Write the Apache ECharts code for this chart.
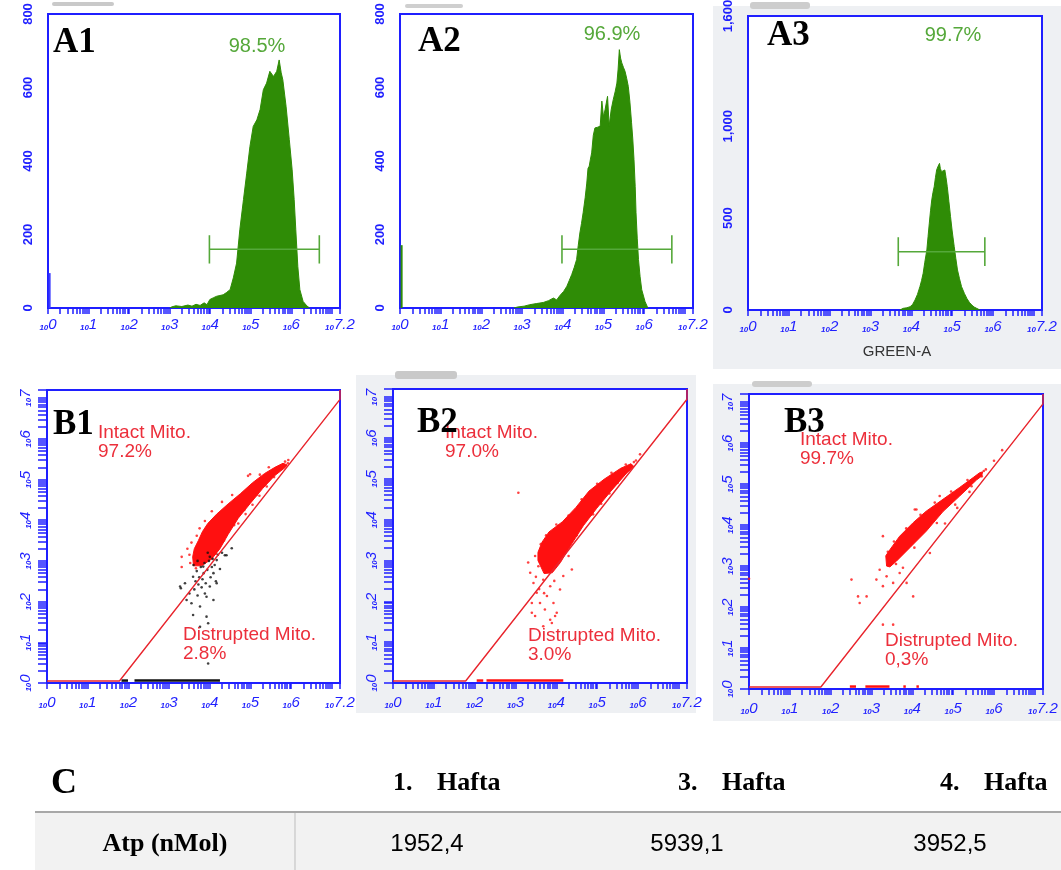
<!DOCTYPE html>
<html>
<head>
<meta charset="utf-8">
<script src="https://cdn.jsdelivr.net/npm/echarts@6/dist/echarts.min.js"></script>
<style>
  body { margin: 0; background: #fff; }
  #chart { width: 1061px; height: 870px; }
</style>
</head>
<body>
<div id="chart"></div>
<script>
// ---- histogram data (x = log10 intensity, y = count) ----
var a1Hist = [[3.0,0],[3.05,3],[3.15,6],[3.3,4],[3.45,8],[3.55,5],[3.65,10],[3.75,7],[3.85,14],[3.92,9],
  [3.99,23],[4.08,28],[4.16,32],[4.24,34],[4.32,36],[4.40,42],[4.49,50],[4.57,82],[4.65,122],[4.73,213],
  [4.82,295],[4.90,367],[4.98,440],[5.06,494],[5.15,512],[5.23,540],[5.31,594],[5.39,612],[5.47,644],
  [5.56,630],[5.64,644],[5.70,675],[5.75,640],[5.79,621],[5.87,549],[5.95,458],[6.02,376],[6.07,295],
  [6.11,213],[6.16,113],[6.21,50],[6.29,18],[6.38,6],[6.45,0]];
var a2Hist = [[2.8,0],[2.9,3],[3.05,5],[3.19,9],[3.35,12],[3.52,15],[3.65,20],[3.77,27],[3.85,22],[3.93,34],
  [4.02,45],[4.10,59],[4.16,75],[4.22,91],[4.28,110],[4.34,132],[4.38,170],[4.42,204],[4.46,230],[4.50,259],
  [4.55,300],[4.59,340],[4.62,380],[4.65,386],[4.68,405],[4.71,422],[4.75,470],[4.79,490],[4.86,492],
  [4.92,495],[4.96,563],[5.00,520],[5.04,540],[5.10,576],[5.14,495],[5.19,540],[5.24,567],[5.29,590],
  [5.33,612],[5.36,650],[5.39,703],[5.42,680],[5.45,667],[5.49,655],[5.53,644],[5.57,625],[5.61,603],
  [5.65,560],[5.69,504],[5.72,460],[5.75,404],[5.78,330],[5.80,259],[5.83,190],[5.86,132],[5.90,85],
  [5.94,50],[6.02,18],[6.09,0]];
var a3Hist = [[3.72,0],[3.80,9],[3.89,12],[3.97,18],[4.03,30],[4.09,54],[4.15,85],[4.21,127],[4.25,160],
  [4.29,200],[4.33,260],[4.38,327],[4.41,400],[4.44,472],[4.47,540],[4.50,599],[4.53,640],[4.56,671],
  [4.59,720],[4.62,762],[4.65,780],[4.69,798],[4.71,770],[4.74,753],[4.78,745],[4.82,762],[4.85,720],
  [4.88,671],[4.92,590],[4.96,508],[5.00,430],[5.05,345],[5.09,280],[5.13,218],[5.18,170],[5.23,127],
  [5.30,90],[5.36,63],[5.42,42],[5.48,27],[5.54,16],[5.60,9],[5.68,0]];
var firstBin = [95, 171, 0];
// gate markers: [from, to, level, capLow, capHigh]
var aGates = [[3.98,6.69,160,121,198],[3.98,6.68,160,121,198],[3.68,5.80,317,239,396]];
var aYMax = [800, 800, 1600];
var aYLabels = [[0,200,400,600,800],[0,200,400,600,800],[0,500,1000,1600]];
var aPercents = ['98.5%', '96.9%', '99.7%'];

// ---- dot plot data (x, y = log10 intensity) ----
var b1Band = [[3.60,2.88],[3.58,3.10],[3.62,3.30],[3.72,3.50],[3.82,3.72],[3.95,3.92],[4.17,4.15],[4.45,4.40],
  [4.75,4.65],[5.05,4.92],[5.35,5.15],[5.60,5.30],[5.80,5.40],[5.90,5.36],[5.86,5.30],[5.60,5.10],[5.30,4.78],
  [5.00,4.42],[4.70,4.05],[4.45,3.65],[4.25,3.30],[4.05,3.05],[3.80,2.88]];
var b2Band = [[3.55,3.0],[3.55,3.2],[3.65,3.45],[3.82,3.70],[4.15,3.95],[4.48,4.30],[4.80,4.70],[5.17,4.99],
  [5.58,5.26],[5.83,5.37],[5.90,5.30],[5.73,5.15],[5.32,4.68],[4.99,4.28],[4.66,3.85],[4.34,3.35],[4.10,2.95],
  [3.90,2.70],[3.70,2.68]];
var b3Band = [[3.37,3.0],[3.35,3.25],[3.45,3.40],[3.69,3.73],[4.02,4.06],[4.34,4.34],[4.75,4.63],[5.16,4.92],
  [5.49,5.16],[5.65,5.28],[5.72,5.30],[5.70,5.20],[5.57,5.10],[5.16,4.71],[4.75,4.33],[4.34,3.85],[3.94,3.45],
  [3.61,3.12],[3.45,2.98]];
var b1Red = [[3.31,3.10],[3.31,2.85],[3.45,3.30],[3.50,3.15],[3.55,3.45],[3.68,3.62],[3.75,3.80],[3.88,3.98],
  [4.05,4.22],[4.30,4.45],[4.55,4.62],[4.94,5.09],[4.99,5.13],[5.23,5.12],[5.45,5.30],[5.85,5.44],[5.92,5.40],
  [3.52,2.95],[3.66,2.82],[4.15,3.18],[4.35,3.50],[4.60,3.88],[4.85,4.25],[5.15,4.62],[5.45,4.98],
  [4.70,3.92],[4.88,4.15],[5.05,4.38],[5.22,4.60],[5.40,4.83],[5.58,5.06],[5.75,5.28],[5.93,5.48]];
var b1Black = [[3.27,2.37],[3.29,2.33],[3.39,2.45],[3.43,2.04],[3.5,2.2],[3.55,1.96],[3.59,1.67],[3.59,2.61],
  [3.62,2.3],[3.65,2.5],[3.68,2.75],[3.7,2.15],[3.72,2.42],[3.74,2.6],[3.76,1.88],[3.76,1.38],[3.78,2.85],
  [3.8,2.35],[3.82,2.55],[3.84,2.86],[3.85,2.7],[3.87,2.95],[3.88,2.2],[3.9,2.45],[3.92,2.12],[3.92,1.63],
  [3.94,2.78],[3.96,1.47],[3.96,0.48],[3.98,3.0],[4.0,3.1],[4.0,2.37],[4.02,2.6],[4.05,2.85],[4.07,3.05],
  [4.09,2.70],[4.09,2.04],[4.12,2.9],[4.15,2.5],[4.17,3.02],[4.17,2.45],[4.2,3.15],[4.25,2.8],[4.3,3.2],
  [4.37,3.14],[4.41,3.14],[4.54,3.31],[3.6,2.9],[3.7,3.0],[3.95,3.2]];
var b2Red = [[3.36,2.70],[3.44,2.45],[3.52,2.21],[3.40,1.72],[3.60,1.96],[3.77,2.13],[3.93,1.96],[4.01,1.72],
  [4.09,2.29],[3.68,1.39],[3.85,1.55],[4.17,2.62],[3.68,2.53],[3.85,2.37],[3.56,2.86],[3.48,3.11],[3.80,2.78],
  [4.38,2.78],[3.97,1.64],[3.72,1.80],[3.89,1.47],[3.48,1.64],[3.40,1.96],[3.31,2.95],[3.07,4.66],[4.30,3.11],
  [3.58,2.30],[3.95,2.50],[3.70,2.20],[3.50,2.60],[3.62,3.40],[3.75,3.62],[4.00,3.88],[4.30,4.10],[4.62,4.50],
  [5.00,4.88],[5.35,5.15],[5.70,5.35],[5.95,5.45],[4.50,3.62],[4.85,4.12],
  [4.9,4.13],[5.1,4.39],[5.3,4.64],[5.5,4.90],[5.7,5.16],[5.9,5.41],[6.05,5.60]];
var b3Red = [[0.0,2.69],[2.51,2.67],[2.67,2.26],[2.71,2.10],[2.88,2.26],[3.12,2.67],[3.28,3.73],[3.28,2.51],
  [3.28,1.57],[3.53,1.57],[3.20,2.91],[3.37,2.75],[3.53,2.59],[3.69,2.83],[3.86,2.59],[3.77,2.96],[4.02,2.26],
  [4.43,3.32],[4.06,4.38],[4.10,4.38],[4.67,4.71],[3.40,3.35],[3.55,3.60],[3.85,3.92],[4.20,4.25],[4.55,4.55],
  [4.95,4.82],[5.35,5.10],[5.75,5.32],[5.80,5.36],[3.60,3.05],[4.05,3.45],[4.60,4.05],[5.05,4.50],[5.45,4.95],
  [4.8,4.04],[5.1,4.42],[5.4,4.81],[5.7,5.19],[6.0,5.57],[6.2,5.83]];
// events piled on the low edge: [from, to]
var b1Floor = [[1.83,1.99],[2.15,4.25]];
var b2Floor = [[2.05,2.21],[2.29,4.17]];
var b3Floor = [[2.47,2.62],[2.85,3.44],[3.78,3.84],[4.10,4.16]];
// diagonal gate outlines
var b1Gate = [[0,0.05],[1.78,0.05],[7.2,6.97],[7.2,7.2]];
var b2Gate = [[0,0.05],[1.78,0.05],[7.2,6.95],[7.2,7.2]];
var b3Gate = [[0,0.05],[1.76,0.05],[7.2,6.96],[7.2,7.2]];
var intactPct = ['97.2%', '97.0%', '99.7%'];
var disruptedPct = ['2.8%', '3.0%', '0,3%'];

var panelNames = ['A1', 'A2', 'A3', 'B1', 'B2', 'B3'];
var logLabelValues = [0, 1, 2, 3, 4, 5, 6, 7.2];
var logYLabelValues = [0, 1, 2, 3, 4, 5, 6, 7];

// ---- table C ----
var weeks = ['1. Hafta', '3. Hafta', '4. Hafta'];
var atpLabel = 'Atp (nMol)';
var atpValues = ['1952,4', '5939,1', '3952,5'];

var BLUE = '#1f1fff';
var HIST = '#2f8c06';
var GATE_GREEN = '#55a83a';
var RED = '#ff1010';
var TXT_RED = '#ec2f3b';
var SANS = 'Liberation Sans, Arial, sans-serif';
var SERIF = 'Liberation Serif, Times New Roman, serif';

var logTicks = [];
for (var d = 0; d < 8; d++) {
  for (var k = 1; k < 10; k++) {
    var t = d + Math.log10(k);
    if (t <= 7.2) logTicks.push(t);
  }
}
logTicks.push(7.2);

var expRich = {
  b: { fontFamily: SANS, fontSize: 8, fontWeight: 'bold', fontStyle: 'italic', color: BLUE, verticalAlign: 'bottom' },
  e: { fontFamily: SANS, fontSize: 15, fontStyle: 'italic', color: BLUE }
};
function expFmt(v) {
  var s = Math.abs(v - 7.2) < 1e-6 ? '7.2' : String(Math.round(v));
  return '{b|10}{e|' + s + '}';
}

var grids = [
  { left: 48, top: 14, width: 292, height: 294 },
  { left: 400, top: 14, width: 293, height: 294 },
  { left: 748, top: 16, width: 294, height: 294 },
  { left: 47, top: 390, width: 293, height: 293 },
  { left: 393, top: 389, width: 294, height: 294 },
  { left: 749, top: 394, width: 294, height: 295 }
].map(function (g) {
  return Object.assign({ show: true, backgroundColor: '#fff', borderColor: BLUE, borderWidth: 2, outerBoundsMode: 'none' }, g);
});

var xAxes = [], yAxes = [];
for (var i = 0; i < 6; i++) {
  var isB = i >= 3;
  xAxes.push({
    type: 'value', gridIndex: i, min: 0, max: 7.2,
    axisLine: { show: true, lineStyle: { color: BLUE, width: 2 } },
    axisTick: { show: true, customValues: logTicks, length: 6, lineStyle: { color: BLUE, width: 1.5 } },
    axisLabel: { customValues: logLabelValues, formatter: expFmt, rich: expRich, margin: isB ? 12 : 9 },
    splitLine: { show: false }
  });
  if (!isB) {
    yAxes.push({
      type: 'value', gridIndex: i, min: 0, max: aYMax[i],
      axisLine: { show: true, lineStyle: { color: BLUE, width: 2 } },
      axisTick: { show: false },
      axisLabel: {
        customValues: aYLabels[i], rotate: 90, color: BLUE, fontWeight: 'bold',
        fontFamily: SANS, fontSize: 13, margin: 13,
        formatter: function (v) { return v >= 1000 ? String(v).replace(/(\d)(\d{3})$/, '$1,$2') : String(v); }
      },
      splitLine: { show: false }
    });
  } else {
    yAxes.push({
      type: 'value', gridIndex: i, min: 0, max: 7.2,
      axisLine: { show: true, lineStyle: { color: BLUE, width: 2 } },
      axisTick: { show: true, customValues: logTicks, length: 9, lineStyle: { color: BLUE, width: 1.5 } },
      axisLabel: { customValues: logYLabelValues, rotate: 90, formatter: expFmt, rich: expRich, margin: 14 },
      splitLine: { show: false }
    });
  }
}

function renderGate(params, api) {
  var x1 = api.value(0), x2 = api.value(1), y = api.value(2), lo = api.value(3), hi = api.value(4);
  var a = api.coord([x1, y]), b = api.coord([x2, y]);
  var a1 = api.coord([x1, lo]), a2 = api.coord([x1, hi]);
  var b1 = api.coord([x2, lo]), b2 = api.coord([x2, hi]);
  var st = { stroke: GATE_GREEN, lineWidth: 1.6 };
  return { type: 'group', children: [
    { type: 'line', shape: { x1: a[0], y1: a[1], x2: b[0], y2: b[1] }, style: st },
    { type: 'line', shape: { x1: a1[0], y1: a1[1], x2: a2[0], y2: a2[1] }, style: st },
    { type: 'line', shape: { x1: b1[0], y1: b1[1], x2: b2[0], y2: b2[1] }, style: st }
  ] };
}
function bandRenderer(points) {
  return function (params, api) {
    if (params.dataIndex !== 0) return null;
    var pts = points.map(function (p) { return api.coord(p); });
    return { type: 'polygon', shape: { points: pts }, style: { fill: RED, stroke: RED, lineWidth: 1 } };
  };
}
var FLOOR_Y = 0.06;
function floorRenderer(color) {
  return function (params, api) {
    var a = api.coord([api.value(0), FLOOR_Y]), b = api.coord([api.value(1), FLOOR_Y]);
    return { type: 'line', shape: { x1: a[0], y1: a[1], x2: b[0], y2: b[1] }, style: { stroke: color, lineWidth: 2.5 } };
  };
}

var series = [];
var hists = [a1Hist, a2Hist, a3Hist];
for (var h = 0; h < 3; h++) {
  series.push({
    type: 'line', xAxisIndex: h, yAxisIndex: h, data: hists[h], symbol: 'none',
    lineStyle: { color: HIST, width: 1 }, areaStyle: { color: HIST, opacity: 1 }, z: 3, animation: false
  });
  if (firstBin[h] > 0) {
    series.push({
      type: 'line', xAxisIndex: h, yAxisIndex: h, data: [[0.04, 0], [0.04, firstBin[h]]], symbol: 'none',
      lineStyle: { color: h === 0 ? '#3b3bff' : HIST, width: 2 }, animation: false
    });
  }
  series.push({
    type: 'custom', xAxisIndex: h, yAxisIndex: h, data: [aGates[h]], renderItem: renderGate,
    encode: { x: [0, 1], y: [2, 3, 4] }, z: 4, animation: false
  });
}
var bands = [b1Band, b2Band, b3Band];
var reds = [b1Red, b2Red, b3Red];
var floors = [b1Floor, b2Floor, b3Floor];
var gates = [b1Gate, b2Gate, b3Gate];
for (var j = 0; j < 3; j++) {
  var gi = j + 3;
  series.push({
    type: 'custom', xAxisIndex: gi, yAxisIndex: gi, data: bands[j], renderItem: bandRenderer(bands[j]),
    encode: { x: 0, y: 1 }, z: 3, animation: false
  });
  series.push({
    type: 'scatter', xAxisIndex: gi, yAxisIndex: gi, data: reds[j], symbolSize: 2.6,
    itemStyle: { color: RED }, z: 4, animation: false
  });
  if (j === 0) {
    series.push({
      type: 'scatter', xAxisIndex: gi, yAxisIndex: gi, data: b1Black, symbolSize: 2.6,
      itemStyle: { color: '#111' }, z: 5, animation: false
    });
  }
  series.push({
    type: 'custom', xAxisIndex: gi, yAxisIndex: gi, data: floors[j],
    renderItem: floorRenderer(j === 0 ? '#111' : RED), encode: { x: [0, 1] }, z: 5, animation: false
  });
  series.push({
    type: 'line', xAxisIndex: gi, yAxisIndex: gi, data: gates[j], symbol: 'none',
    lineStyle: { color: '#e8242c', width: 1.4 }, z: 6, animation: false
  });
}

// ---- free text and table, placed in pixels ----
var graphic = [];
function txt(x, y, text, font, fill, align, z) {
  graphic.push({ type: 'text', x: x, y: y, z: z || 100,
    style: { text: text, font: font, fill: fill, textAlign: align || 'left', textVerticalAlign: 'middle' } });
}
function rect(x, y, w, h, fill, z, r) {
  graphic.push({ type: 'rect', z: z, shape: { x: x, y: y, width: w, height: h, r: r || 0 }, style: { fill: fill } });
}
// light grey screenshot frames
rect(713, 6, 348, 363, '#eef0f3', -100);
rect(356, 375, 340, 338, '#eef0f3', -100);
rect(713, 384, 348, 337, '#eef0f3', -100);
// little tabs
rect(52, 2, 62, 4, '#c9c9c9', -50, 2);
rect(405, 4, 58, 4, '#cfcfcf', -50, 2);
rect(750, 2, 60, 7, '#cdcdcd', -50, 3);
rect(395, 371, 62, 8, '#c9c9c9', -50, 3);
rect(752, 381, 60, 6, '#cdcdcd', -50, 3);

var pctPos = [[257, 46], [612, 34], [953, 35]];
for (var p = 0; p < 3; p++) {
  txt(pctPos[p][0], pctPos[p][1], aPercents[p], '20px ' + SANS, GATE_GREEN, 'center');
}
txt(897, 352, 'GREEN-A', '15px ' + SANS, '#333', 'center');

var intactPos = [[98, 433], [445, 433], [800, 440]];
var disPos = [[183, 635], [528, 636], [885, 641]];
for (var q = 0; q < 3; q++) {
  txt(intactPos[q][0], intactPos[q][1], 'Intact Mito.', '19px ' + SANS, TXT_RED);
  txt(intactPos[q][0], intactPos[q][1] + 19, intactPct[q], '19px ' + SANS, TXT_RED);
  txt(disPos[q][0], disPos[q][1], 'Distrupted Mito.', '19px ' + SANS, TXT_RED);
  txt(disPos[q][0], disPos[q][1] + 19, disruptedPct[q], '19px ' + SANS, TXT_RED);
}
var namePos = [[53, 43], [418, 42], [767, 36], [53, 425], [417, 423], [784, 423]];
for (var n = 0; n < 6; n++) {
  txt(namePos[n][0], namePos[n][1], panelNames[n], 'bold 35px ' + SERIF, '#000', 'left', 120);
}

// table
rect(35, 813, 1026, 57, '#f2f2f2', -100);
graphic.push({ type: 'line', z: 10, shape: { x1: 35, y1: 812, x2: 1061, y2: 812 }, style: { stroke: '#a8a8a8', lineWidth: 2 } });
graphic.push({ type: 'line', z: 10, shape: { x1: 295, y1: 813, x2: 295, y2: 870 }, style: { stroke: '#bdbdbd', lineWidth: 1 } });
txt(51, 784, 'C', 'bold 36px ' + SERIF, '#000');
var weekX = [393, 678, 940];
var valX = [427, 687, 950];
for (var w = 0; w < weeks.length; w++) {
  var parts = weeks[w].split(' ');
  txt(weekX[w], 783, parts[0], 'bold 26px ' + SERIF, '#000');
  txt(weekX[w] + 44, 783, parts[1], 'bold 26px ' + SERIF, '#000');
  txt(valX[w], 844, atpValues[w], '24px ' + SANS, '#000', 'center');
}
txt(165, 844, atpLabel, 'bold 26px ' + SERIF, '#000', 'center');

var chart = echarts.init(document.getElementById('chart'));
chart.setOption({
  animation: false,
  backgroundColor: '#fff',
  grid: grids,
  xAxis: xAxes,
  yAxis: yAxes,
  series: series,
  graphic: graphic
});
</script>
</body>
</html>
